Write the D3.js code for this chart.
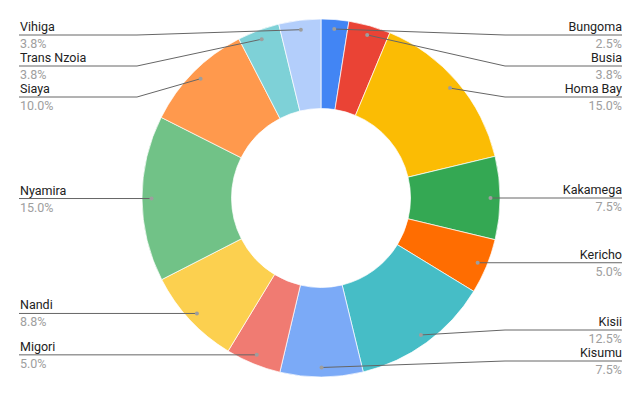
<!DOCTYPE html>
<html>
<head>
<meta charset="utf-8">
<script src="https://cdn.jsdelivr.net/npm/d3@7"></script>
<style>
  body { margin: 0; background: #fff; }
  svg { display: block; font-family: Roboto, Arial, sans-serif; }
</style>
</head>
<body>
<script>
// county shares (percent of total)
const counties = ['Bungoma', 'Busia', 'Homa Bay', 'Kakamega', 'Kericho', 'Kisii', 'Kisumu',
                  'Migori', 'Nandi', 'Nyamira', 'Siaya', 'Trans Nzoia', 'Vihiga'];
const shares = [2.5, 3.8, 15.0, 7.5, 5.0, 12.5, 7.5, 5.0, 8.8, 15.0, 10.0, 3.8, 3.8];
const colors = ['#4285f4', '#ea4335', '#fbbc04', '#34a853', '#ff6d01', '#46bdc6', '#7baaf7',
                '#f07b72', '#fcd04f', '#71c287', '#ff994d', '#7ed1d7', '#b3cefb'];

const width = 642, height = 397;
const cx = 321, cy = 198;   // centre of the donut
const R = 179, r = 89.5;     // outer / inner radius
const dotR = 169.5;          // where leader lines start
const elbow = 184;           // x distance of the leader elbow from centre
const gap = 31, topY = 35, botY = 361; // label spacing limits

const svg = d3.select('body').append('svg')
    .attr('width', width)
    .attr('height', height);

const pie = d3.pie().sort(null).value(d => d);
const arcs = pie(shares);

const arc = d3.arc().innerRadius(r).outerRadius(R);
const dotArc = d3.arc().innerRadius(dotR).outerRadius(dotR);

const g = svg.append('g').attr('transform', `translate(${cx},${cy})`);

g.selectAll('path')
    .data(arcs)
    .enter()
    .append('path')
    .attr('d', arc)
    .attr('fill', (d, i) => colors[i])
    .attr('stroke', '#fff')
    .attr('stroke-width', 0.7);

// label positions: start at the dot height, then spread them out per side
const labels = arcs.map((d, i) => {
    const [x, y] = dotArc.centroid(d);
    const mid = (d.startAngle + d.endAngle) / 2;
    return { i, dx: x + cx, dy: y + cy, right: mid < Math.PI, ly: y + cy };
});

function spread(list){
    list.sort((a, b) => a.dy - b.dy);
    let prev = -Infinity;
    list.forEach(l => {
        l.ly = Math.max(l.dy, topY, prev + gap);
        prev = l.ly;
    });
    let next = Infinity;
    for(let k = list.length - 1; k >= 0; k--){
        list[k].ly = Math.min(list[k].ly, botY, next - gap);
        next = list[k].ly;
    }
}
spread(labels.filter(l => l.right));
spread(labels.filter(l => !l.right));

const lab = svg.append('g');

labels.forEach(l => {
    const ex = l.right ? cx + elbow : cx - elbow;
    const endX = l.right ? 622 : 19;
    const pts = Math.abs(l.ly - l.dy) < 1
        ? [[l.dx, l.ly], [endX, l.ly]]
        : [[l.dx, l.dy], [ex, l.ly], [endX, l.ly]];

    lab.append('path')
        .attr('d', d3.line()(pts))
        .attr('fill', 'none')
        .attr('stroke', '#666')
        .attr('stroke-width', 1);

    lab.append('circle')
        .attr('cx', l.dx)
        .attr('cy', pts[0][1])
        .attr('r', 2)
        .attr('fill', '#9e9e9e');

    const tx = l.right ? 622 : 20;
    const anchor = l.right ? 'end' : 'start';

    lab.append('text')
        .attr('x', tx)
        .attr('y', l.ly - 4)
        .attr('text-anchor', anchor)
        .attr('font-size', 12.5)
        .attr('fill', '#222')
        .text(counties[l.i]);

    lab.append('text')
        .attr('x', tx)
        .attr('y', l.ly + 13)
        .attr('text-anchor', anchor)
        .attr('font-size', 12.5)
        .attr('fill', '#9e9e9e')
        .text(shares[l.i].toFixed(1) + '%');
});
</script>
</body>
</html>
